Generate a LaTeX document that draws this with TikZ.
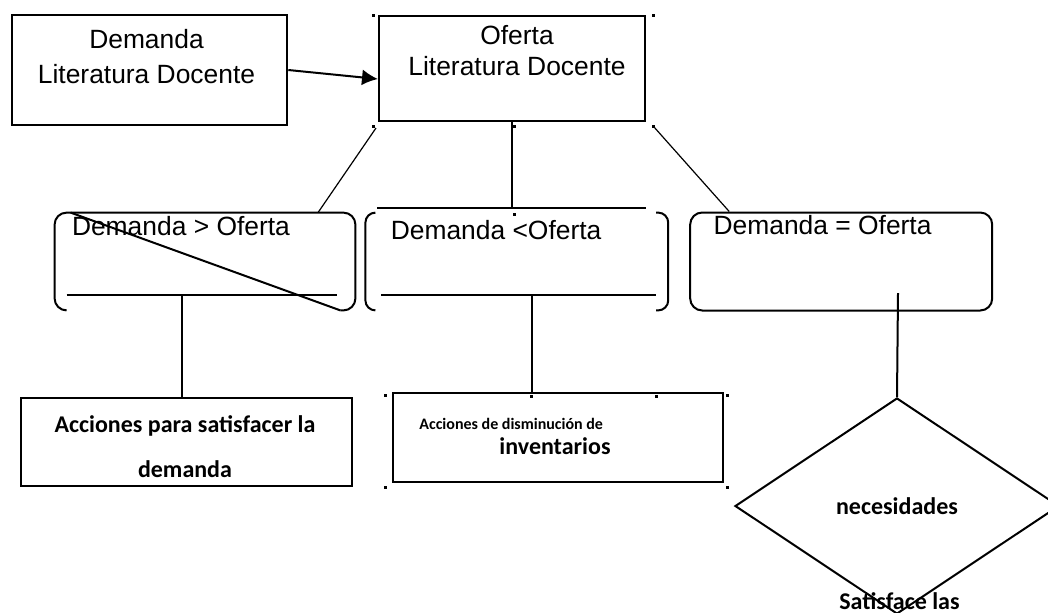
\documentclass[tikz,border=0pt]{standalone}
\usepackage{fontspec}
\newfontfamily\arialfont{Liberation Sans}
\newfontfamily\calibrifont{Carlito}
\usetikzlibrary{positioning,shapes.geometric,arrows.meta}
\tikzset{box node/.style={draw,line width=1pt,inner sep=0pt},
            frame node/.style={inner sep=0pt},
            big text/.style={inner sep=0pt,align=center,font=\arialfont\fontsize{13.2}{17.5}\selectfont},
            bold text/.style={inner sep=0pt,align=center,font=\calibrifont\bfseries\fontsize{12}{22.5}\selectfont},
            small text/.style={inner sep=0pt,font=\calibrifont\bfseries\fontsize{8}{10}\selectfont},
            }

\begin{document}
\begin{tikzpicture}[x=1pt,y=1pt]
    \useasboundingbox (0,0) rectangle (524,-306);

    \node[box node,line width=1.3pt,minimum width=137.5pt,minimum height=55pt,
        label={[big text,anchor=base,xshift=-1.5pt,yshift=-35pt]north:{Demanda\\Literatura Docente}}] (1) at (74.75,-35) {};
    \node[box node,minimum width=133pt,minimum height=52.5pt,
        label={[big text,font=\arialfont\fontsize{13.2}{15.5}\selectfont,anchor=base,xshift=2.5pt,yshift=-30pt]north:{Oferta\\Literatura Docente}}] (2) at (256,-34.25) {};

    \node[frame node,minimum width=150pt,minimum height=48.5pt,
        label={[big text,anchor=base west,xshift=8.5pt,yshift=-11.5pt]north west:{Demanda > Oferta}}] (3) at (102.5,-130.75) {};
    \node[frame node,minimum width=151pt,minimum height=48.5pt,right=5pt of 3,
        label={[big text,anchor=base west,xshift=12.5pt,yshift=-13.5pt]north west:{Demanda <Oferta}}] (4) {};
    \node[box node,rounded corners=6pt,minimum width=151pt,minimum height=49pt,right=10.5pt of 4,
        label={[big text,anchor=base west,xshift=12pt,yshift=-11.5pt]north west:{Demanda = Oferta}}] (5) {};

    \node[box node,minimum width=165.5pt,minimum height=44pt,
        label={[bold text,anchor=base,xshift=-0.75pt,yshift=-40pt]north:{Acciones para satisfacer la\\demanda}}] (6) at (93.25,-221) {};
    \node[box node,minimum width=165pt,minimum height=44.5pt,
        label={[small text,anchor=base west,xshift=13.5pt,yshift=-18.5pt]north west:{Acciones de disminución de}},
        label={[bold text,anchor=base west,xshift=53.5pt,yshift=-31pt]north west:{inventarios}}] (7) at (279,-218.75) {};
    \node[draw,diamond,line width=1pt,inner sep=0pt,minimum width=162pt,minimum height=108pt,
        font=\calibrifont\bfseries\fontsize{12}{14}\selectfont,
        label={[bold text,anchor=base,xshift=1.25pt,yshift=3pt]south:{Satisface las}}] (8) at (448.5,-253) {necesidades};

    % brackets of the two open boxes
    \draw[line width=1pt,rounded corners=6pt] ([xshift=6pt]3.south west) -| (3.north west) -- (3.north east) |- ([xshift=-7.5pt]3.south east);
    \draw[line width=1pt] ([xshift=8pt]3.north west) -- ([xshift=-7.5pt]3.south east);
    \draw[line width=1pt] ([shift={(6pt,7.5pt)}]3.south west) -- ([shift={(-9pt,7.5pt)}]3.south east);
    \draw[line width=1pt,rounded corners=5pt] ([xshift=5pt]4.north west) -| (4.south west) -- ([xshift=5pt]4.south west);
    \draw[line width=1pt,rounded corners=5pt] ([xshift=-6pt]4.north east) -| (4.south east) -- ([xshift=-6pt]4.south east);
    \draw[line width=1pt] ([shift={(6pt,2.5pt)}]4.north west) -- ([shift={(-11pt,2.5pt)}]4.north east);
    \draw[line width=1pt] ([shift={(8pt,7.5pt)}]4.south west) -- ([shift={(-6pt,7.5pt)}]4.south east);

    \coordinate (4t) at ([yshift=2.5pt]4.north);
    \coordinate (3b) at (91,-147.5);
    \coordinate (4b) at (266,-147.5);
    \coordinate (5b) at (449,-146.5);

    \path[draw,line width=1pt]
    (1.east) edge[-{Latex[length=8pt,width=8pt]}] ([yshift=-5.25pt]2.west);
    \path[draw,line width=0.6pt]
    ([shift={(-1pt,-3pt)}]2.south west) edge ([xshift=56.5pt]3.north)
    (2.south) edge (2.south |- 4t)
    ([shift={(4pt,-2.5pt)}]2.south east) edge ([xshift=20pt]5.north west);
    \path[draw,line width=1pt]
    (3b) edge (3b |- 6.north)
    (4b) edge (4b |- 7.north)
    (5b) edge (8.north);

    % handles
    \foreach \x/\y in {186.5/-7.5,326.5/-7.5,186.5/-63,257/-63,326.5/-63,257/-107,
        192.5/-197.5,265.5/-198,328/-198,363.5/-197.5,192.5/-243.5,363.5/-243.5}
        \fill (\x,\y) +(-0.75,-0.75) rectangle +(0.75,0.75);
\end{tikzpicture}
\end{document}
